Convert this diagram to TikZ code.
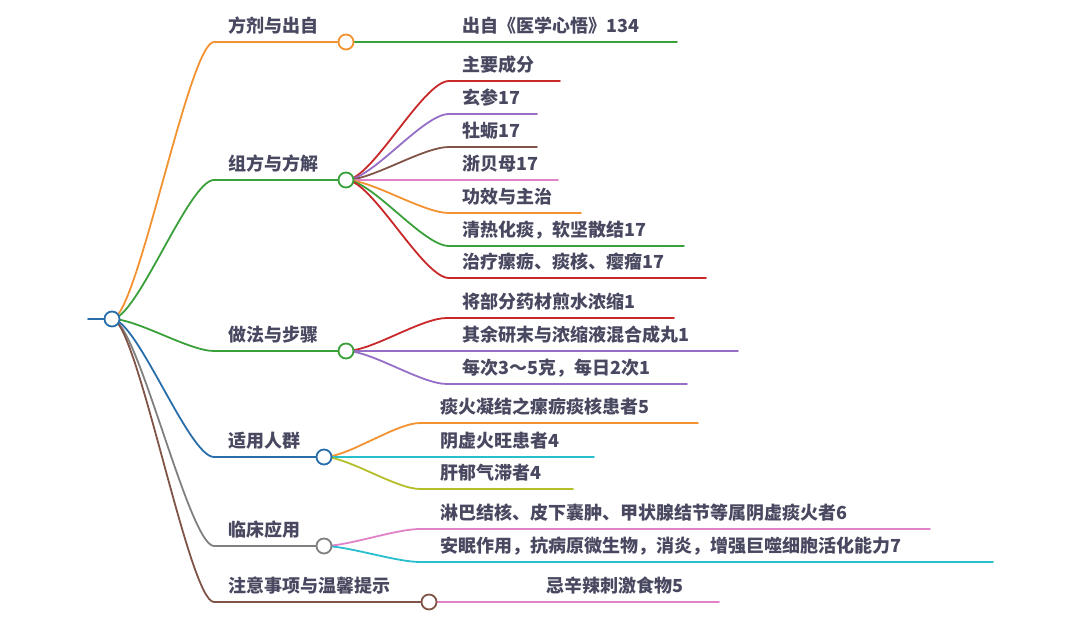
\documentclass[tikz,border=0pt]{standalone}
\usepackage{fontspec}
\newfontfamily\cjk{Noto Sans CJK SC}
\definecolor{txt}{RGB}{72,72,96}
\definecolor{corange}{RGB}{243,146,49}
\definecolor{cgreen}{RGB}{58,160,58}
\definecolor{cblue}{RGB}{40,110,170}
\definecolor{cgray}{RGB}{128,128,128}
\definecolor{cbrown}{RGB}{128,84,70}
\definecolor{cred}{RGB}{200,40,40}
\definecolor{cpurple}{RGB}{150,110,200}
\definecolor{cpink}{RGB}{225,130,200}
\definecolor{ccyan}{RGB}{40,190,205}
\definecolor{colive}{RGB}{180,190,40}
\pgfdeclarelayer{bg}
\pgfsetlayers{bg,main}
\tikzset{
  conn/.style={line width=1.8pt, line cap=round},
  dot/.style={circle, draw, fill=white, line width=1.8pt, minimum size=15pt, inner sep=0pt},
  lbl/.style={anchor=base west, inner sep=0pt, font=\cjk\bfseries\fontsize{18}{20}\selectfont, text=txt},
}
\begin{document}
\begin{tikzpicture}[x=1pt,y=-1pt]
\useasboundingbox (0,0) rectangle (1080,617);
% root
\node[dot, draw=cblue] (root) at (112,319) {};
\coordinate (rl) at (88,319);
% level 1 circles
\node[dot, draw=corange] (c1) at (346,42) {};
\node[dot, draw=cgreen] (c2) at (346,180) {};
\node[dot, draw=cgreen] (c3) at (346,351) {};
\node[dot, draw=cblue] (c4) at (324,457) {};
\node[dot, draw=cgray] (c5) at (324,546) {};
\node[dot, draw=cbrown] (c6) at (429,602) {};
\begin{pgfonlayer}{bg}
\draw[conn, cblue] (rl) -- (root.center);
% level 1 connectors
\foreach \n/\y/\c in {1/42/corange, 2/180/cgreen, 3/351/cgreen, 4/457/cblue, 5/546/cgray, 6/602/cbrown}{
  \coordinate (s\n) at (214,\y);
  \draw[conn, \c] (root.center) .. controls +(25,0) and +(-25,0) .. (s\n) -- (c\n.center);
}
% branch 1
\coordinate (e11) at (677,42);
\draw[conn, cgreen] (c1.center) -- (e11);
% branch 2
\foreach \i/\y/\e/\c in {1/81/560/cred, 2/114/537/cpurple, 3/147/537/cbrown, 4/180/558/cpink, 5/213/581/corange, 6/246/684/cgreen, 7/278/706/cred}{
  \coordinate (k2\i) at (449,\y);
  \coordinate (e2\i) at (\e,\y);
  \draw[conn, \c] (c2.center) .. controls +(26,0) and +(-26,0) .. (k2\i) -- (e2\i);
}
% branch 3
\foreach \i/\y/\e/\c in {1/318/674/cred, 2/351/738/cpurple, 3/384/687/cpurple}{
  \coordinate (k3\i) at (447,\y);
  \coordinate (e3\i) at (\e,\y);
  \draw[conn, \c] (c3.center) .. controls +(26,0) and +(-26,0) .. (k3\i) -- (e3\i);
}
% branch 4
\foreach \i/\y/\e/\c in {1/423/698/corange, 2/457/594/ccyan, 3/489/573/colive}{
  \coordinate (k4\i) at (420,\y);
  \coordinate (e4\i) at (\e,\y);
  \draw[conn, \c] (c4.center) .. controls +(24,0) and +(-24,0) .. (k4\i) -- (e4\i);
}
% branch 5
\foreach \i/\y/\e/\c in {1/529/930/cpink, 2/562/993/ccyan}{
  \coordinate (k5\i) at (420,\y);
  \coordinate (e5\i) at (\e,\y);
  \draw[conn, \c] (c5.center) .. controls +(24,0) and +(-24,0) .. (k5\i) -- (e5\i);
}
% branch 6
\coordinate (e61) at (719,602);
\draw[conn, cpink] (c6.center) -- (e61);
\end{pgfonlayer}
% labels
\foreach \n/\y/\t in {1/42/方剂与出自, 2/180/组方与方解, 3/351/做法与步骤, 4/457/适用人群, 5/546/临床应用, 6/602/注意事项与温馨提示}{
  \node[lbl] (t\n) at (228,\y-9) {\t};
}
\node[lbl] (t11) at (462,33) {出自《医学心悟》134};
\foreach \i/\y/\t in {1/81/主要成分, 2/114/玄参17, 3/147/牡蛎17, 4/180/浙贝母17, 5/213/功效与主治, 6/246/清热化痰，软坚散结17, 7/278/治疗瘰疬、痰核、瘿瘤17}{
  \node[lbl] (t2\i) at (462,\y-9) {\t};
}
\foreach \i/\y/\t in {1/318/将部分药材煎水浓缩1, 2/351/其余研末与浓缩液混合成丸1, 3/384/每次3～5克，每日2次1}{
  \node[lbl] (t3\i) at (462,\y-9) {\t};
}
\foreach \i/\y/\t in {1/423/痰火凝结之瘰疬痰核患者5, 2/457/阴虚火旺患者4, 3/489/肝郁气滞者4}{
  \node[lbl] (t4\i) at (440,\y-9) {\t};
}
\foreach \i/\y/\t in {1/529/淋巴结核、皮下囊肿、甲状腺结节等属阴虚痰火者6, 2/562/安眠作用，抗病原微生物，消炎，增强巨噬细胞活化能力7}{
  \node[lbl] (t5\i) at (440,\y-9) {\t};
}
\node[lbl] (t61) at (546,593) {忌辛辣刺激食物5};
\end{tikzpicture}
\end{document}
